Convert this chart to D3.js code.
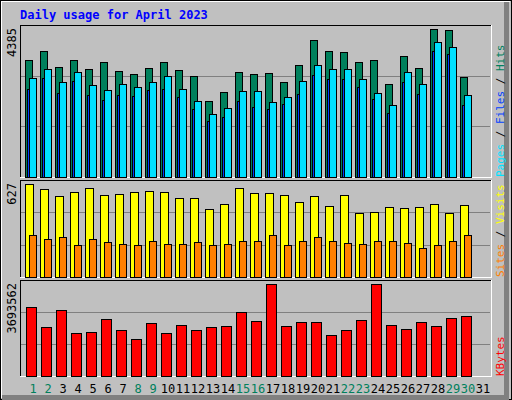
<!DOCTYPE html>
<html>
<head>
<meta charset="utf-8">
<title>Daily usage</title>
<script src="https://cdn.jsdelivr.net/npm/d3@7"></script>
<style>
body { margin: 0; background: #c0c0c0; }
svg text { font-family: "DejaVu Sans Mono", monospace; }
</style>
</head>
<body>
<svg id="chart" width="512" height="400"></svg>
<script>
var days = d3.range(1, 32);
var weekends = [1, 2, 8, 9, 15, 16, 22, 23, 29, 30];

var hits = [3458,3727,3249,3458,3189,3398,3129,3040,3219,3398,3159,2980,2263,2532,3109,3040,3070,2801,3309,4056,3727,3697,3398,3458,2741,3578,3219,4385,4355,2950];
var pages = [2920,3189,2801,3100,2711,2592,2741,2681,2801,2980,2621,2263,1874,2053,2562,2562,2233,2382,2831,3309,3189,3189,2890,2502,2143,3100,2741,3996,3847,2442];
var files = [2621,2920,2502,2831,2442,2293,2442,2412,2592,2621,2382,2024,1665,1784,2263,2083,2024,2173,2472,3010,2890,2890,2681,2322,1904,2801,2472,3727,3638,2143];
var visits = [627,593,546,573,600,552,559,573,580,573,532,532,457,491,600,566,566,552,505,546,478,552,430,437,471,464,471,491,430,485];
var sites = [281,254,267,213,254,233,220,213,240,220,220,233,213,220,240,240,281,213,240,267,240,227,220,240,240,227,193,213,240,281];
var kbytes = [2764000,1956000,2643000,1713000,1754000,2279000,1835000,1471000,2118000,1713000,2037000,1835000,1956000,1996000,2562000,2198000,3693562,1996000,2158000,2158000,1633000,1835000,2239000,3693562,2037000,1875000,2158000,1996000,2320000,2400000];

var svg = d3.select("#chart").attr("shape-rendering", "crispEdges");

// frame
svg.append("rect").attr("x", 0.5).attr("y", 0.5).attr("width", 511).attr("height", 399).attr("fill", "#c0c0c0").attr("stroke", "#000");
svg.append("path").attr("d", "M1.5,398V1.5H510").attr("fill", "none").attr("stroke", "#fff");
svg.append("path").attr("d", "M2,397.5H506.5V2").attr("fill", "none").attr("stroke", "#808080").attr("stroke-width", 5);

svg.append("text").attr("x", 20).attr("y", 19).attr("fill", "#0000ff")
	.attr("font-size", 12).attr("font-weight", "bold").text("Daily usage for April 2023");

var x = d3.scaleLinear().domain([1, 32]).range([25, 490]);

function panel(top, bottom, max, label, legend) {
	svg.append("rect").attr("x", 20).attr("y", top).attr("width", 471).attr("height", bottom - top).attr("fill", "#c0c0c0");
	[1, 2].forEach(function (k) {
		var gy = Math.round(bottom - (bottom - top) * k / 3) + 0.5;
		svg.append("line").attr("x1", 21).attr("x2", 490).attr("y1", gy).attr("y2", gy).attr("stroke", "#808080");
	});
	svg.append("path").attr("d", "M20.5," + bottom + "V" + (top + 0.5) + "H491").attr("fill", "none").attr("stroke", "#000");
	svg.append("path").attr("d", "M20," + (bottom + 0.5) + "H491.5V" + top).attr("fill", "none").attr("stroke", "#fff");
	svg.append("text").attr("transform", "translate(16," + (top + 3) + ") rotate(-90)")
		.attr("text-anchor", "end").attr("font-size", 12).attr("font-family", "DejaVu Sans, sans-serif").text(label);
	var t = svg.append("text").attr("transform", "translate(504," + bottom + ") rotate(-90)").attr("font-size", 11);
	legend.forEach(function (l, i) {
		if (i > 0) t.append("tspan").attr("fill", "#000").text(" / ");
		t.append("tspan").attr("fill", l[1]).text(l[0]);
	});
	return d3.scaleLinear().domain([0, max]).range([bottom, top + 4]);
}

function bars(data, y, off, w, color) {
	svg.append("g").selectAll("rect").data(data).join("rect")
		.attr("x", function (d, i) { return Math.round(x(i + 1)) + off + 0.5; })
		.attr("y", function (d) { return Math.round(y(d)) + 0.5; })
		.attr("width", w)
		.attr("height", function (d) { return y.range()[0] - Math.round(y(d)) - 0.5; })
		.attr("fill", color).attr("stroke", "#000");
}

var y1 = panel(25, 177, d3.max(hits), "4385", [["Pages", "#00e0ff"], ["Files", "#0040ff"], ["Hits", "#00805c"]]);
bars(hits, y1, 0, 7, "#00805c");
bars(files, y1, 2, 7, "#0040ff");
bars(pages, y1, 4, 7, "#00e0ff");

var y2 = panel(180, 277, d3.max(visits), "627", [["Sites", "#ff8000"], ["Visits", "#ffff00"]]);
bars(visits, y2, 0, 8, "#ffff00");
bars(sites, y2, 4, 7, "#ff8000");

var y3 = panel(280, 376, d3.max(kbytes), "3693562", [["KBytes", "#ff0000"]]);
bars(kbytes, y3, 1, 10, "#ff0000");

svg.append("g").selectAll("text").data(days).join("text")
	.attr("x", function (d) { return x(d) + 8; })
	.attr("y", 393).attr("text-anchor", "middle").attr("font-size", 12)
	.attr("font-family", "DejaVu Sans, sans-serif")
	.attr("fill", function (d) { return weekends.indexOf(d) >= 0 ? "#00805c" : "#000"; })
	.text(function (d) { return d; });
</script>
</body>
</html>
